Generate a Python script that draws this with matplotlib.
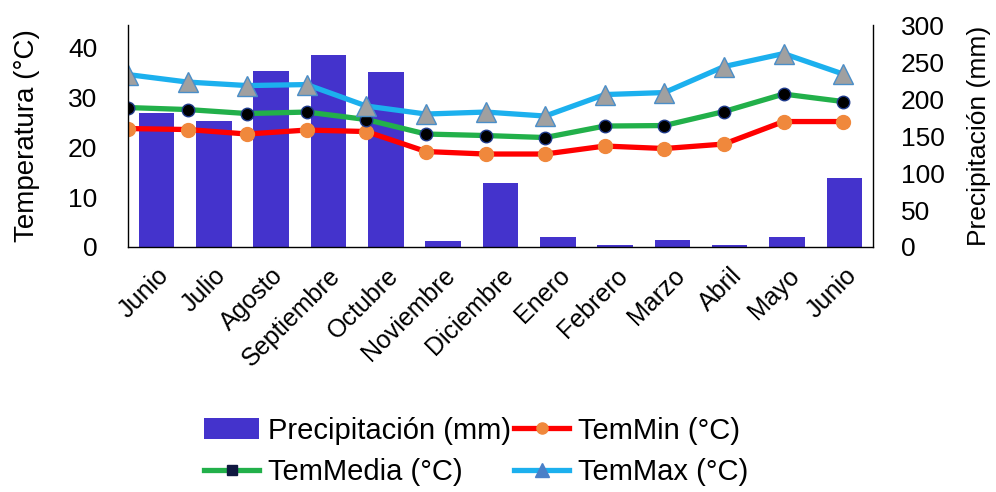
import matplotlib
matplotlib.use("Agg")
import matplotlib.pyplot as plt
from matplotlib.lines import Line2D

plt.rcParams['font.family'] = ['Liberation Sans', 'DejaVu Sans']

months = ["Junio", "Julio", "Agosto", "Septiembre", "Octubre", "Noviembre",
          "Diciembre", "Enero", "Febrero", "Marzo", "Abril", "Mayo", "Junio"]
precip = [181, 171, 238, 260, 236, 8, 87, 13, 3, 9, 3, 13, 93]
tmin = [23.7, 23.5, 22.6, 23.4, 23.1, 19.1, 18.6, 18.6, 20.2, 19.7, 20.6, 25.1, 25.1]
tmed = [27.9, 27.5, 26.7, 27.0, 25.5, 22.6, 22.3, 21.9, 24.2, 24.3, 27.1, 30.6, 29.1]
tmax = [34.5, 33.0, 32.3, 32.5, 28.2, 26.6, 27.0, 26.2, 30.5, 30.9, 36.1, 38.7, 34.6]

fig = plt.figure(figsize=(9.96, 4.92), dpi=100)
pos = [0.1285, 0.498, 0.748, 0.451]

axP = fig.add_axes(pos)
axT = fig.add_axes(pos)
axT.set_zorder(axP.get_zorder() + 1)
axT.patch.set_visible(False)

x = list(range(len(months)))
bars = axP.bar(x, precip, width=0.62, color="#4433CC", label="Precipitación (mm)")
axP.set_xlim(-0.5, 12.5)
axP.set_ylim(0, 300)
axP.yaxis.tick_right()
axP.yaxis.set_label_position("right")
axP.set_yticks([0, 50, 100, 150, 200, 250, 300])
axP.set_ylabel("Precipitación (mm)", fontsize=19, labelpad=16)
axP.set_xticks(x)
axP.set_xticklabels(months, rotation=45, ha="right", rotation_mode="anchor", fontsize=18)
axP.tick_params(axis="both", length=0)
axP.tick_params(axis="y", labelsize=19, pad=20)
axP.tick_params(axis="x", pad=12)
for s in ["top", "left"]:
    axP.spines[s].set_visible(False)
axP.spines["right"].set_linewidth(1.0)
axP.spines["bottom"].set_linewidth(1.0)

l1, = axT.plot(x, tmin, color="#FF0000", lw=3.8, marker="o", ms=10,
               mfc="#F0883C", mec="#F0883C", label="TemMin (°C)")
l2, = axT.plot(x, tmed, color="#22B04A", lw=3.8, marker="o", ms=9,
               mfc="#000000", mec="#1F3A8A", label="TemMedia (°C)")
l3, = axT.plot(x, tmax, color="#1CB0EE", lw=3.8, marker="^", ms=15,
               mfc="#A0A0A0", mec="#4A8EC8", label="TemMax (°C)")
axT.set_xlim(0, 12.5)
axT.set_ylim(0, 44.4)
axT.set_yticks([0, 10, 20, 30, 40])
axT.set_xticks([])
axT.set_ylabel("Temperatura (°C)", fontsize=20, labelpad=20)
axT.tick_params(axis="y", length=0, labelsize=19, pad=22)
for s in ["top", "right", "bottom"]:
    axT.spines[s].set_visible(False)
axT.spines["left"].set_linewidth(1.0)

h_min = Line2D([], [], color="#FF0000", lw=3.8, marker="o", ms=8,
               mfc="#F0883C", mec="#F0883C")
h_med = Line2D([], [], color="#22B04A", lw=3.8, marker="s", ms=7,
               mfc="#101840", mec="#101840")
h_max = Line2D([], [], color="#1CB0EE", lw=3.8, marker="^", ms=10,
               mfc="#4A80C8", mec="#4A80C8")

fig.legend([bars, h_med, h_min, h_max],
           ["Precipitación (mm)", "TemMedia (°C)", "TemMin (°C)", "TemMax (°C)"],
           loc="center", bbox_to_anchor=(0.478, 0.083), ncol=2, frameon=False,
           fontsize=21, handletextpad=0.3, columnspacing=0.1, borderpad=0.0,
           handlelength=1.9, labelspacing=0.45)

fig.savefig("out.png", dpi=100)
